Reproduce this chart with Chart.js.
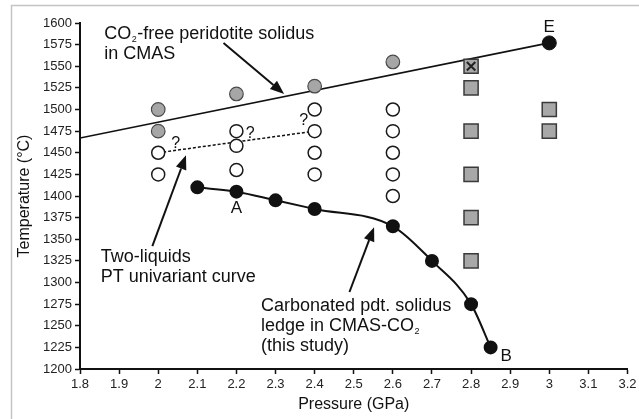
<!DOCTYPE html>
<html>
<head>
<meta charset="utf-8">
<script src="https://cdn.jsdelivr.net/npm/chart.js@4/dist/chart.umd.min.js"></script>
<style>
  html, body { margin: 0; padding: 0; background: #fff; }
  #wrap { width: 639px; height: 419px; }
</style>
</head>
<body>
<div id="wrap"><canvas id="chart"></canvas></div>
<script>
"use strict";

// CO2-free solidus (straight line ending at E)
const freeP = [1.8, 3.0];
const freeT = [1467, 1577];
// two-liquids univariant curve (dashed)
const twoP = [2.0, 2.4];
const twoT = [1450, 1475];
// carbonated solidus ledge (this study)
const carbP = [2.1, 2.2, 2.3, 2.4, 2.6, 2.7, 2.8, 2.85];
const carbT = [1410, 1405, 1395, 1385, 1365, 1325, 1275, 1225];
// point E
const eP = [3.0];
const eT = [1577];
// grey circles
const greyP = [2.0, 2.0, 2.2, 2.4, 2.6];
const greyT = [1500, 1475, 1518, 1527, 1555];
// open circles
const openP = [2.0, 2.0, 2.2, 2.2, 2.2, 2.4, 2.4, 2.4, 2.4, 2.6, 2.6, 2.6, 2.6, 2.6];
const openT = [1450, 1425, 1475, 1458, 1430, 1500, 1475, 1450, 1425, 1500, 1475, 1450, 1425, 1400];
// grey squares
const sqP = [2.8, 2.8, 2.8, 2.8, 2.8, 3.0, 3.0];
const sqT = [1525, 1475, 1425, 1375, 1325, 1500, 1475];
// square with X
const xsqP = [2.8];
const xsqT = [1550];

// annotation texts (data coordinates of first baseline)
const noteLines = [
  [["CO", ""], ["2", "sub"], ["-free peridotite solidus", ""]],
  [["in CMAS", ""]],
  [["Two-liquids", ""]],
  [["PT univariant curve", ""]],
  [["Carbonated pdt. solidus", ""]],
  [["ledge in CMAS-CO", ""], ["2", "sub"]],
  [["(this study)", ""]]
];
const noteP = [1.862, 1.862, 1.853, 1.853, 2.263, 2.263, 2.263];
const noteT = [1582, 1558, 1324, 1301, 1267, 1244, 1221];

// letters and question marks
const tagText = ["A", "B", "E", "?", "?", "?"];
const tagP = [2.2, 2.89, 3.0, 2.045, 2.235, 2.372];
const tagT = [1380, 1209, 1590, 1456, 1467, 1482];

// arrows: tail -> head
const arrowFromP = [2.167, 1.985, 2.489];
const arrowFromT = [1577, 1342, 1289];
const arrowToP = [2.322, 2.071, 2.552];
const arrowToT = [1518, 1447, 1364];

const pts = (xs, ys) => xs.map((x, i) => ({x: x, y: ys[i]}));
const FONT = "'Liberation Sans', Arial, sans-serif";

const framePlugin = {
  id: 'frame',
  beforeDraw(chart) {
    const ctx = chart.ctx;
    ctx.save();
    ctx.fillStyle = '#fff';
    ctx.fillRect(0, 0, chart.width, chart.height);
    ctx.strokeStyle = '#c4c4c4';
    ctx.lineWidth = 1.5;
    ctx.strokeRect(11.5, 5.5, 700, 500);
    ctx.restore();
  }
};

const notesPlugin = {
  id: 'notes',
  afterDraw(chart) {
    const ctx = chart.ctx;
    const sx = chart.scales.x, sy = chart.scales.y;
    ctx.save();
    ctx.fillStyle = '#111';
    ctx.strokeStyle = '#111';

    // text blocks
    ctx.textBaseline = 'alphabetic';
    ctx.textAlign = 'left';
    noteLines.forEach((runs, i) => {
      let x = sx.getPixelForValue(noteP[i]);
      const y = sy.getPixelForValue(noteT[i]);
      runs.forEach(r => {
        if (r[1] === 'sub') {
          ctx.font = '9px ' + FONT;
          ctx.fillText(r[0], x + 0.5, y + 3);
        } else {
          ctx.font = '18px ' + FONT;
          ctx.fillText(r[0], x, y);
        }
        x += ctx.measureText(r[0]).width + (r[1] === 'sub' ? 1 : 0);
      });
    });

    // tags
    ctx.textAlign = 'center';
    tagText.forEach((t, i) => {
      ctx.font = (t === '?' ? '16px ' : '17px ') + FONT;
      ctx.fillText(t, sx.getPixelForValue(tagP[i]), sy.getPixelForValue(tagT[i]));
    });

    // arrows
    ctx.lineWidth = 2;
    arrowFromP.forEach((p, i) => {
      const x1 = sx.getPixelForValue(p), y1 = sy.getPixelForValue(arrowFromT[i]);
      const x2 = sx.getPixelForValue(arrowToP[i]), y2 = sy.getPixelForValue(arrowToT[i]);
      const a = Math.atan2(y2 - y1, x2 - x1);
      const len = 14, w = 5.5;
      const bx = x2 - len * Math.cos(a), by = y2 - len * Math.sin(a);
      ctx.beginPath();
      ctx.moveTo(x1, y1);
      ctx.lineTo(bx, by);
      ctx.stroke();
      ctx.beginPath();
      ctx.moveTo(x2, y2);
      ctx.lineTo(bx + w * Math.sin(a), by - w * Math.cos(a));
      ctx.lineTo(bx - w * Math.sin(a), by + w * Math.cos(a));
      ctx.closePath();
      ctx.fill();
    });
    ctx.restore();
  }
};

new Chart(document.getElementById('chart'), {
  type: 'scatter',
  data: {
    datasets: [
      { data: pts(xsqP, xsqT), pointStyle: 'crossRot', pointRadius: 6, borderColor: '#222', borderWidth: 2, backgroundColor: '#222' },
      { data: pts(xsqP, xsqT), pointStyle: 'rect', pointRadius: 10, backgroundColor: '#a8a8a8', borderColor: '#3a3a3a', borderWidth: 1.5 },
      { data: pts(sqP, sqT), pointStyle: 'rect', pointRadius: 10, backgroundColor: '#a8a8a8', borderColor: '#3a3a3a', borderWidth: 1.5 },
      { data: pts(eP, eT), pointRadius: 7, backgroundColor: '#111', borderColor: '#111', borderWidth: 1 },
      { type: 'line', data: pts(carbP, carbT), cubicInterpolationMode: 'monotone', borderColor: '#111', borderWidth: 2,
        pointRadius: 6, pointBackgroundColor: '#111', pointBorderColor: '#111', fill: false },
      { data: pts(greyP, greyT), pointRadius: 6.8, backgroundColor: '#a6a6a6', borderColor: '#4a4a4a', borderWidth: 1.2 },
      { data: pts(openP, openT), pointRadius: 6.5, backgroundColor: '#fff', borderColor: '#1a1a1a', borderWidth: 1.5 },
      { type: 'line', data: pts(twoP, twoT), borderColor: '#111', borderWidth: 1.5, borderDash: [3, 2], pointRadius: 0, fill: false },
      { type: 'line', data: pts(freeP, freeT), borderColor: '#111', borderWidth: 1.6, pointRadius: 0, fill: false }
    ]
  },
  options: {
    responsive: true,
    maintainAspectRatio: false,
    animation: false,
    events: [],
    layout: { padding: { left: 12, top: 23, right: 0, bottom: 0 } },
    plugins: { legend: { display: false }, tooltip: { enabled: false } },
    scales: {
      x: {
        type: 'linear', min: 1.8, max: 3.2,
        afterFit(s) { s.height = 50; s.paddingLeft = 0; s.paddingRight = 0; },
        grid: { drawOnChartArea: false, drawTicks: true, tickLength: 5, tickColor: '#111', tickWidth: 1.5 },
        border: { display: true, color: '#111', width: 2 },
        ticks: { stepSize: 0.1, color: '#222', font: { family: FONT, size: 13 }, padding: 3, maxRotation: 0, autoSkip: false,
          callback: v => String(+v.toFixed(1)) },
        title: { display: true, text: 'Pressure (GPa)', color: '#111', font: { family: FONT, size: 16 }, padding: { top: 4, bottom: 5 } }
      },
      y: {
        type: 'linear', min: 1200, max: 1600,
        afterFit(s) { s.width = 68; s.paddingTop = 0; s.paddingBottom = 0; },
        grid: { drawOnChartArea: false, drawTicks: true, tickLength: 5, tickColor: '#111', tickWidth: 1.5 },
        border: { display: true, color: '#111', width: 2 },
        ticks: { stepSize: 25, color: '#222', font: { family: FONT, size: 13 }, padding: 3, autoSkip: false,
          callback: v => String(v) },
        title: { display: true, text: 'Temperature (°C)', color: '#111', font: { family: FONT, size: 16 }, padding: { top: 3, bottom: 0 } }
      }
    }
  },
  plugins: [framePlugin, notesPlugin]
});
</script>
</body>
</html>
